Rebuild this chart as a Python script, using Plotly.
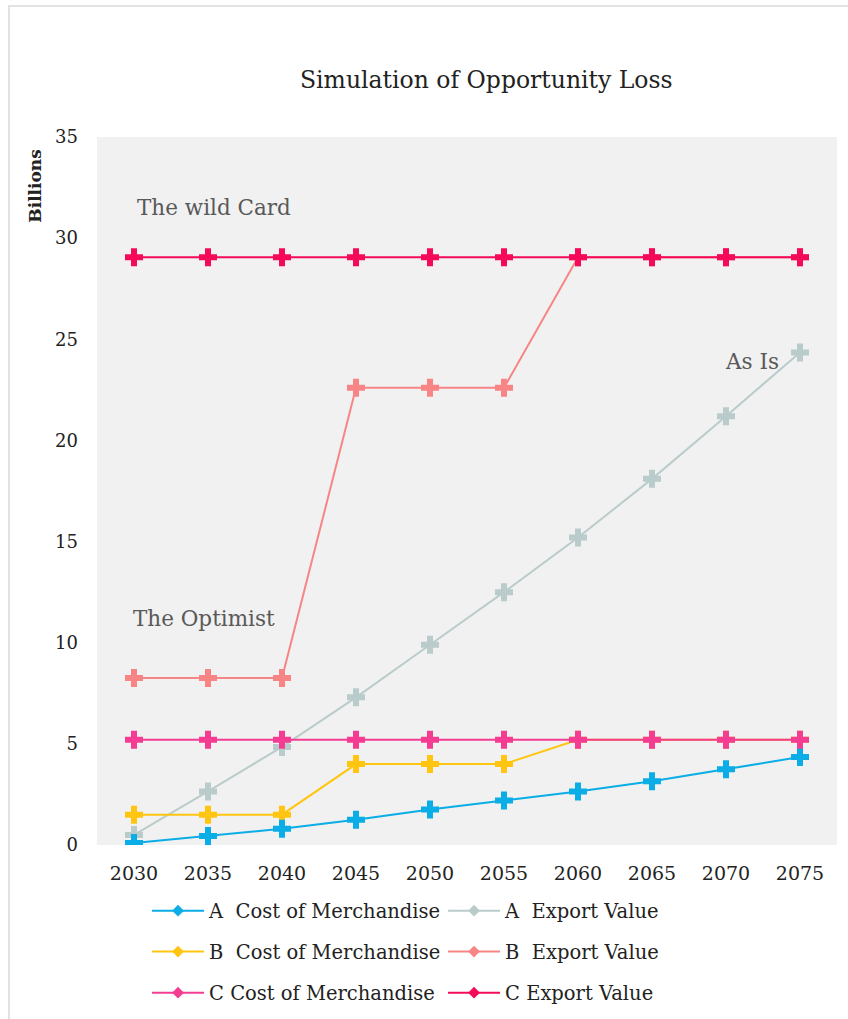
import plotly.graph_objects as go

# Years along the horizontal axis
years = ["2030", "2035", "2040", "2045", "2050", "2055", "2060", "2065", "2070", "2075"]

# Values in billions for each scenario
a_cost = [0.1, 0.45, 0.8, 1.25, 1.75, 2.2, 2.65, 3.15, 3.75, 4.35]
a_export = [0.5, 2.65, 4.85, 7.3, 9.9, 12.5, 15.2, 18.1, 21.2, 24.35]
b_cost = [1.5, 1.5, 1.5, 4.0, 4.0, 4.0, 5.2, 5.2, 5.2, 5.2]
b_export = [8.25, 8.25, 8.25, 22.6, 22.6, 22.6, 29.05, 29.05, 29.05, 29.05]
c_cost = [5.2, 5.2, 5.2, 5.2, 5.2, 5.2, 5.2, 5.2, 5.2, 5.2]
c_export = [29.05, 29.05, 29.05, 29.05, 29.05, 29.05, 29.05, 29.05, 29.05, 29.05]

series_names = [
    "A\u00a0 Cost of Merchandise", "A\u00a0 Export Value",
    "B\u00a0 Cost of Merchandise", "B\u00a0 Export Value",
    "C Cost of Merchandise", "C Export Value",
]
series_values = [a_cost, a_export, b_cost, b_export, c_cost, c_export]
series_colors = ["#0AADE6", "#B9CCCB", "#FFC511", "#F78585", "#F43C92", "#F50A5A"]
legend_ids = ["legend", "legend", "legend2", "legend2", "legend3", "legend3"]

FONT = "DejaVu Serif"

fig = go.Figure()

# Draw order: later series on top
draw_order = [1, 3, 2, 0, 4, 5]
for i in draw_order:
    fig.add_trace(go.Scatter(
        x=years, y=series_values[i], mode="lines+markers",
        line=dict(color=series_colors[i], width=2),
        marker=dict(symbol="cross", size=15, color=series_colors[i]),
        showlegend=False, name=series_names[i],
    ))

# Legend entries with small diamond markers
for i in range(6):
    fig.add_trace(go.Scatter(
        x=[None], y=[None], mode="lines+markers", name=series_names[i],
        line=dict(color=series_colors[i], width=2),
        marker=dict(symbol="diamond", size=9, color=series_colors[i]),
        legend=legend_ids[i],
    ))

legend_common = dict(
    orientation="h", xanchor="left", yanchor="middle",
    font=dict(family=FONT, size=19.5, color="#222222"),
    entrywidth=229, entrywidthmode="pixels", itemwidth=52,
    bgcolor="rgba(0,0,0,0)", itemclick=False, itemdoubleclick=False,
)

ann_font = dict(family=FONT, size=21.5, color="#595959")

fig.update_layout(
    width=848, height=1019,
    margin=dict(l=97, r=11, t=137, b=174, autoexpand=False),
    paper_bgcolor="white",
    plot_bgcolor="#F1F1F1",
    font=dict(family=FONT, color="#222222"),
    xaxis=dict(
        type="category", range=[-0.5, 9.5], showgrid=False, zeroline=False,
        showline=False, ticks="", tickfont=dict(family=FONT, size=19, color="#222222"),
        ticklabelstandoff=15, fixedrange=True,
    ),
    yaxis=dict(
        range=[0, 35], dtick=5, showgrid=False, zeroline=False, showline=False,
        ticks="", tickfont=dict(family=FONT, size=18, color="#222222"),
        ticklabelstandoff=18, fixedrange=True,
    ),
    legend=dict(x=0.0676, y=-0.0932, **legend_common),
    legend2=dict(x=0.0676, y=-0.151, **legend_common),
    legend3=dict(x=0.0676, y=-0.209, **legend_common),
    annotations=[
        dict(text="Simulation of Opportunity Loss", xref="paper", yref="paper",
             x=0.526, y=1.0805, xanchor="center", yanchor="middle", showarrow=False,
             font=dict(family=FONT, size=23.5, color="#222222")),
        dict(text="<b>Billions</b>", xref="paper", yref="paper", x=-0.084, y=0.931,
             xanchor="center", yanchor="middle", textangle=-90, showarrow=False,
             font=dict(family=FONT, size=17, color="#222222")),
        dict(text="The wild Card", xref="paper", yref="y", x=0.0514, y=31.5,
             xanchor="left", yanchor="middle", showarrow=False, font=ann_font),
        dict(text="The Optimist", xref="paper", yref="y", x=0.046, y=11.2,
             xanchor="left", yanchor="middle", showarrow=False, font=ann_font),
        dict(text="As Is", xref="paper", yref="y", x=0.924, y=23.9,
             xanchor="right", yanchor="middle", showarrow=False, font=ann_font),
    ],
    shapes=[
        dict(type="rect", xref="paper", yref="paper", x0=-0.119, x1=1.05,
             y0=-0.27, y1=1.185, line=dict(color="#D9D9D9", width=1.5),
             fillcolor="rgba(0,0,0,0)", layer="below"),
    ],
)

fig.write_html("out.html")
